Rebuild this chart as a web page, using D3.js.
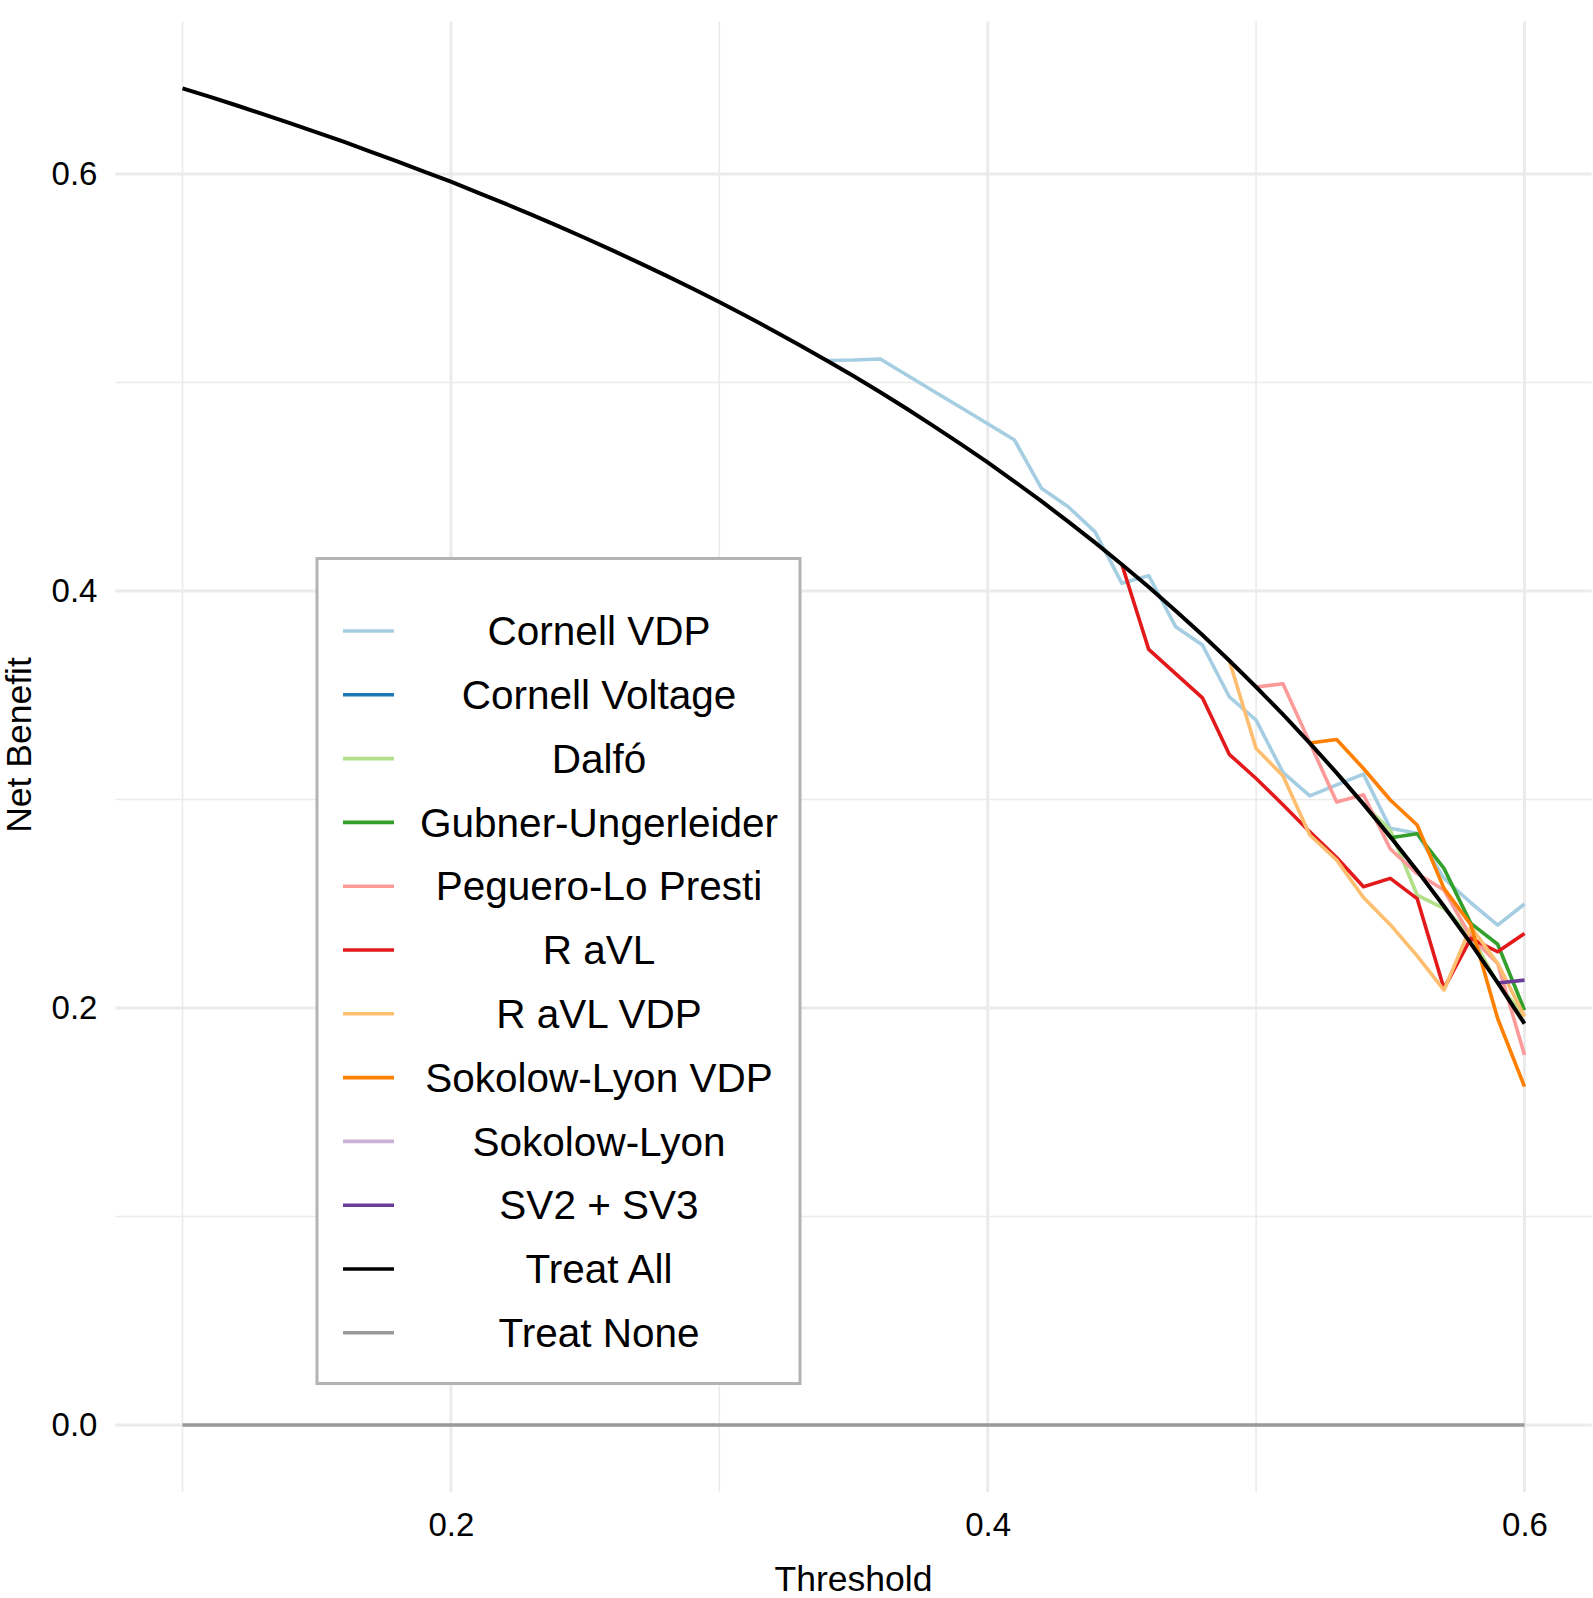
<!DOCTYPE html>
<html>
<head>
<meta charset="utf-8">
<script src="https://cdn.jsdelivr.net/npm/d3@7"></script>
<style>
  html, body { margin: 0; padding: 0; background: #fff; }
  svg { display: block; font-family: "Liberation Sans", Arial, Helvetica, sans-serif; }
</style>
</head>
<body>
<svg id="chart" width="1593" height="1598"></svg>
<script>
// ---------- data ----------
const seriesNames = ["Cornell VDP", "Cornell Voltage", "Dalfó", "Gubner-Ungerleider",
  "Peguero-Lo Presti", "R aVL", "R aVL VDP", "Sokolow-Lyon VDP", "Sokolow-Lyon",
  "SV2 + SV3", "Treat All", "Treat None"];
const seriesColors = ["#A6CEE3", "#1F78B4", "#B2DF8A", "#33A02C", "#FB9A99", "#E31A1C",
  "#FDBF6F", "#FF7F00", "#CAB2D6", "#6A3D9A", "#000000", "#999999"];

const xTicks = [0.2, 0.4, 0.6];
const yTicks = [0.0, 0.2, 0.4, 0.6];
const xMinor = [0.1, 0.3, 0.5];
const yMinor = [0.1, 0.3, 0.5];

// thresholds (x) and net benefit (y)
const treatAllX = [0.10,0.11,0.12,0.13,0.14,0.15,0.16,0.17,0.18,0.19,0.20,0.21,0.22,0.23,0.24,0.25,
  0.26,0.27,0.28,0.29,0.30,0.31,0.32,0.33,0.34,0.35,0.36,0.37,0.38,0.39,0.40,0.41,0.42,0.43,0.44,
  0.45,0.46,0.47,0.48,0.49,0.50,0.51,0.52,0.53,0.54,0.55,0.56,0.57,0.58,0.59,0.60];
const treatAllY = [0.6411,0.6371,0.6330,0.6287,0.6244,0.6200,0.6155,0.6108,0.6061,0.6012,0.5963,
  0.5911,0.5859,0.5805,0.5750,0.5693,0.5635,0.5575,0.5514,0.5451,0.5386,0.5319,0.5250,0.5179,
  0.5106,0.5031,0.4953,0.4873,0.4790,0.4705,0.4617,0.4525,0.4431,0.4333,0.4232,0.4127,0.4019,
  0.3906,0.3789,0.3667,0.3540,0.3408,0.3271,0.3128,0.2978,0.2822,0.2659,0.2488,0.2310,0.2122,0.1925];

const treatNoneX = [0.10, 0.60];
const treatNoneY = [0.0, 0.0];

const cornellVdpX = [0.34,0.35,0.36,0.37,0.38,0.39,0.40,0.41,0.42,0.43,0.44,0.45,0.46,0.47,0.48,
  0.49,0.50,0.51,0.52,0.53,0.54,0.55,0.56,0.57,0.58,0.59,0.60];
const cornellVdpY = [0.5106,0.5108,0.5113,0.5035,0.4957,0.4880,0.4802,0.4724,0.4493,0.4404,0.4284,
  0.4037,0.4074,0.3829,0.3741,0.3493,0.3381,0.3130,0.3018,0.3070,0.3122,0.2862,0.2838,0.2622,
  0.2505,0.2398,0.2499];

const cornellVoltageX = [];
const cornellVoltageY = [];

const dalfoX = [0.54,0.55,0.56,0.57,0.58,0.59,0.60];
const dalfoY = [0.2978,0.2854,0.2542,0.2478,0.2350,0.2118,0.1960];

const gubnerX = [0.54,0.55,0.56,0.57,0.58,0.59,0.60];
const gubnerY = [0.2978,0.2817,0.2836,0.2670,0.2406,0.2306,0.1990];

const pegueroX = [0.50,0.51,0.52,0.53,0.54,0.55,0.56,0.57,0.58,0.59,0.60];
const pegueroY = [0.3540,0.3555,0.3273,0.2988,0.3023,0.2763,0.2645,0.2566,0.2342,0.2214,0.1775];

const ravlX = [0.45,0.46,0.47,0.48,0.49,0.50,0.51,0.52,0.53,0.54,0.55,0.56,0.57,0.58,0.59,0.60];
const ravlY = [0.4127,0.3720,0.3604,0.3488,0.3217,0.3101,0.2975,0.2846,0.2722,0.2582,0.2622,
  0.2525,0.2094,0.2334,0.2270,0.2358];

const ravlVdpX = [0.49,0.50,0.51,0.52,0.53,0.54,0.55,0.56,0.57,0.58,0.59,0.60];
const ravlVdpY = [0.3667,0.3245,0.3114,0.2830,0.2710,0.2530,0.2400,0.2250,0.2086,0.2390,0.2214,0.1960];

const sokolowVdpX = [0.52,0.53,0.54,0.55,0.56,0.57,0.58,0.59,0.60];
const sokolowVdpY = [0.3271,0.3288,0.3149,0.2998,0.2878,0.2574,0.2400,0.1950,0.1623];

const sokolowX = [];
const sokolowY = [];

const sv23X = [0.59,0.60];
const sv23Y = [0.2120,0.2134];

const seriesX = [cornellVdpX, cornellVoltageX, dalfoX, gubnerX, pegueroX, ravlX, ravlVdpX,
  sokolowVdpX, sokolowX, sv23X, treatAllX, treatNoneX];
const seriesY = [cornellVdpY, cornellVoltageY, dalfoY, gubnerY, pegueroY, ravlY, ravlVdpY,
  sokolowVdpY, sokolowY, sv23Y, treatAllY, treatNoneY];

// ---------- layout ----------
const svg = d3.select("#chart");
const panel = { left: 115.4, right: 1591.6, top: 21.4, bottom: 1492 };

const x = d3.scaleLinear().domain([0.075, 0.625]).range([panel.left, panel.right]);
const y = d3.scaleLinear().domain([-0.0321, 0.6732]).range([panel.bottom, panel.top]);

const grid = svg.append("g");
// minor grid
grid.selectAll("line.xminor").data(xMinor).join("line")
  .attr("x1", d => x(d)).attr("x2", d => x(d)).attr("y1", panel.top).attr("y2", panel.bottom)
  .attr("stroke", "#ebebeb").attr("stroke-width", 1.6);
grid.selectAll("line.yminor").data(yMinor).join("line")
  .attr("y1", d => y(d)).attr("y2", d => y(d)).attr("x1", panel.left).attr("x2", panel.right)
  .attr("stroke", "#ebebeb").attr("stroke-width", 1.6);
// major grid
grid.selectAll("line.xmajor").data(xTicks).join("line")
  .attr("x1", d => x(d)).attr("x2", d => x(d)).attr("y1", panel.top).attr("y2", panel.bottom)
  .attr("stroke", "#ebebeb").attr("stroke-width", 3);
grid.selectAll("line.ymajor").data(yTicks).join("line")
  .attr("y1", d => y(d)).attr("y2", d => y(d)).attr("x1", panel.left).attr("x2", panel.right)
  .attr("stroke", "#ebebeb").attr("stroke-width", 3);

// axes
const xAxis = svg.append("g").attr("transform", `translate(0,${panel.bottom})`)
  .call(d3.axisBottom(x).tickValues(xTicks).tickSize(0).tickPadding(21).tickFormat(d3.format(".1f")));
const yAxis = svg.append("g").attr("transform", `translate(${panel.left},0)`)
  .call(d3.axisLeft(y).tickValues(yTicks).tickSize(0).tickPadding(18).tickFormat(d3.format(".1f")));
[xAxis, yAxis].forEach(a => {
  a.select(".domain").remove();
  a.selectAll("text").attr("font-size", 33).attr("fill", "#000")
    .attr("font-family", "'Liberation Sans', Arial, sans-serif");
});

// axis titles
svg.append("text").attr("x", (panel.left + panel.right) / 2).attr("y", 1591)
  .attr("text-anchor", "middle").attr("font-size", 35.5).attr("fill", "#000").text("Threshold");
svg.append("text").attr("transform", "translate(31,745) rotate(-90)")
  .attr("text-anchor", "middle").attr("font-size", 35.5).attr("fill", "#000").text("Net Benefit");

// lines
const line = d3.line().x(d => x(d[0])).y(d => y(d[1]));
const lines = svg.append("g").attr("fill", "none").attr("stroke-linejoin", "round");
seriesNames.forEach((name, i) => {
  const pts = seriesX[i].map((xv, j) => [xv, seriesY[i][j]]);
  if (pts.length < 2) return;
  lines.append("path").datum(pts).attr("d", line)
    .attr("stroke", seriesColors[i])
    .attr("stroke-width", name === "Treat All" ? 4 : 3.6);
});

// legend
const lg = svg.append("g");
lg.append("rect").attr("x", 317).attr("y", 558.5).attr("width", 483).attr("height", 825)
  .attr("fill", "#fff").attr("stroke", "#b3b3b3").attr("stroke-width", 3);
const items = lg.selectAll("g.item").data(seriesNames).join("g")
  .attr("transform", (d, i) => `translate(0,${631 + i * 63.8})`);
items.append("line").attr("x1", 343).attr("x2", 394).attr("y1", 0).attr("y2", 0)
  .attr("stroke", (d, i) => seriesColors[i]).attr("stroke-width", 3.6);
items.append("text").attr("x", 599).attr("y", 0).attr("dy", "0.35em")
  .attr("text-anchor", "middle").attr("font-size", 40.5).attr("fill", "#000").text(d => d);
</script>
</body>
</html>
